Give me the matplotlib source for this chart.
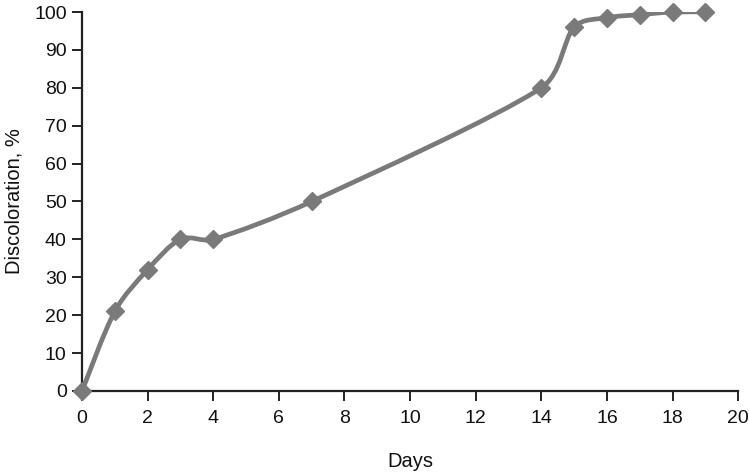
import matplotlib
matplotlib.use("Agg")
import matplotlib.pyplot as plt
import numpy as np
from matplotlib.path import Path
from matplotlib.patches import PathPatch

days = [0, 1, 2, 3, 4, 7, 14, 15, 16, 17, 18, 19]
discoloration = [0, 21, 32, 40, 40, 50, 80, 96, 98.5, 99.3, 100, 100]
x_ticks = [0, 2, 4, 6, 8, 10, 12, 14, 16, 18, 20]
y_ticks = [0, 10, 20, 30, 40, 50, 60, 70, 80, 90, 100]

plt.rcParams['font.family'] = ['Liberation Sans', 'DejaVu Sans']
color = '#7a7a7a'

fig = plt.figure(figsize=(7.49, 4.73), dpi=100)
ax = fig.add_axes([0.1095, 0.1734, 0.876, 0.8012])
ax.set_xlim(0, 20)
ax.set_ylim(0, 100)

# Smoothed line (cubic Bezier through the points), built in display space
pts = ax.transData.transform(np.column_stack([days, discoloration]).astype(float))
n = len(pts)


def arm(vec, chord):
    L = np.hypot(*vec)
    lim = 0.36 * chord
    return vec * (lim / L) if L > lim and L > 0 else vec


verts = [pts[0]]
codes = [Path.MOVETO]
for i in range(n - 1):
    p0 = pts[i - 1] if i > 0 else pts[i]
    p1 = pts[i]
    p2 = pts[i + 1]
    p3 = pts[i + 2] if i + 2 < n else pts[i + 1]
    chord = np.hypot(*(p2 - p1))
    c1 = p1 + arm((p2 - p0) / 6.0, chord)
    c2 = p2 - arm((p3 - p1) / 6.0, chord)
    verts += [c1, c2, p2]
    codes += [Path.CURVE4] * 3
verts = ax.transData.inverted().transform(np.array(verts))
patch = PathPatch(Path(verts, codes), facecolor='none', edgecolor=color,
                  lw=3.4, capstyle='round', joinstyle='round', zorder=2)
ax.add_patch(patch)
ax.plot(days, discoloration, linestyle='none', marker='D', markersize=9.5,
        color=color, zorder=3, clip_on=False)

ax.set_xticks(x_ticks)
ax.set_yticks(y_ticks)
for s in ['top', 'right']:
    ax.spines[s].set_visible(False)
for s in ['left', 'bottom']:
    ax.spines[s].set_linewidth(1.6)
    ax.spines[s].set_color('#222222')
ax.tick_params(direction='out', length=7, width=1.4, colors='#222222',
               labelsize=14, labelcolor='#111111')
ax.tick_params(axis='x', pad=7)
ax.tick_params(axis='y', pad=4)
ax.set_xlabel('Days', fontsize=14.5, color='#111111', labelpad=18)
ax.set_ylabel('Discoloration, %', fontsize=14.5, color='#111111', labelpad=8)

fig.savefig('out.png', dpi=100)
